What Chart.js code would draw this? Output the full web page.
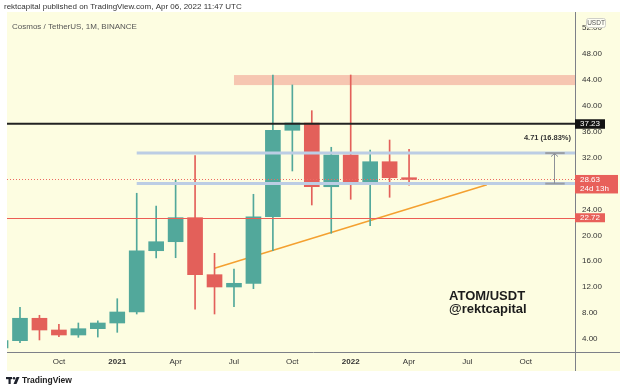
<!DOCTYPE html>
<html><head><meta charset="utf-8">
<script src="https://cdn.jsdelivr.net/npm/chart.js@4.4.1/dist/chart.umd.min.js"></script>
<style>html,body{margin:0;padding:0;background:#fff;}canvas{display:block;}</style>
</head><body>
<canvas id="c" width="620" height="387" style="width:620px;height:387px"></canvas>
<script>
// ---- data ----
const months = ['2020-07','2020-08','2020-09','2020-10','2020-11','2020-12','2021-01','2021-02','2021-03','2021-04','2021-05','2021-06','2021-07','2021-08','2021-09','2021-10','2021-11','2021-12','2022-01','2022-02','2022-03','2022-04'];
const opens  = [2.62, 3.74, 7.20, 5.39, 4.62, 5.59, 6.47, 8.17, 17.63, 19.02, 22.73, 13.93, 12.03, 12.60, 22.88, 36.22, 37.35, 27.51, 32.41, 28.04, 31.37, 28.90];
const highs  = [4.10, 8.89, 7.66, 6.27, 6.47, 6.80, 10.22, 26.50, 24.53, 28.55, 32.30, 17.23, 14.81, 26.34, 44.76, 43.22, 39.25, 33.60, 44.76, 33.18, 34.72, 33.29];
const lows   = [2.50, 3.43, 3.85, 4.36, 4.26, 4.30, 5.03, 7.86, 16.50, 16.55, 8.59, 7.86, 8.99, 11.77, 17.63, 29.94, 24.69, 20.32, 25.57, 21.49, 25.88, 27.73];
const closes = [3.74, 7.20, 5.39, 4.62, 5.59, 6.47, 8.17, 17.63, 19.02, 22.73, 13.93, 12.03, 12.60, 22.88, 36.22, 37.35, 27.51, 32.41, 28.04, 31.37, 28.90, 28.63];
const xTickMonths = ['2020-10','2021-01','2021-04','2021-07','2021-10','2022-01','2022-04','2022-07','2022-10'];
const xTickLabels = ['Oct','2021','Apr','Jul','Oct','2022','Apr','Jul','Oct'];
const yTicks = [4,8,12,16,20,24,28,32,36,40,44,48,52];
const resistance = 37.23;
const support = 22.72;
const lastPrice = 28.63;
const countdown = '24d 13h';
const rangeStart = '2021-02';
const rangeLevels = [32.70, 27.99];
const zoneStart = '2021-07';
const zoneLevels = [44.75, 43.20];
const trendMonths = ['2021-06','2022-08'];
const trendValues = [14.92, 27.80];
const headerText = 'rektcapital published on TradingView.com, Apr 06, 2022 11:47 UTC';
const symbolText = 'Cosmos / TetherUS, 1M, BINANCE';
const watermark = ['ATOM/USDT','@rektcapital'];

// ---- styling ----
const FONT = '"Liberation Sans", Arial, sans-serif';
const BG = '#fdfde1';
const GREEN = '#52a89b';
const RED = '#e3605a';
const mi = s => { const [yy,mm] = s.split('-').map(Number); return (yy-2020)*12 + (mm-8); };
const X_MIN = -0.668, X_MAX = 28.53;
const Y_MIN = 1.993, Y_MAX = 54.33;

const idx = months.map(mi);
const colors = closes.map((c,i)=> c >= opens[i] ? GREEN : RED);

function hline(ctx, x1, x2, y){ ctx.beginPath(); ctx.moveTo(x1,y); ctx.lineTo(x2,y); ctx.stroke(); }

const overlay = {
  id:'overlay',
  beforeDraw(chart){
    const ctx = chart.ctx;
    ctx.save();
    ctx.fillStyle = '#fff'; ctx.fillRect(0,0,620,387);
    ctx.fillStyle = BG; ctx.fillRect(7,12,613,359);
    ctx.fillStyle = '#333'; ctx.font = '8px ' + FONT; ctx.textBaseline = 'middle';
    ctx.fillText(headerText, 4, 6.5);
    ctx.fillStyle = '#555'; ctx.font = '8px ' + FONT;
    ctx.fillText(symbolText, 12, 27);
    ctx.restore();
  },
  beforeDatasetsDraw(chart){
    const {ctx, chartArea:a, scales:{x,y}} = chart;
    ctx.save();
    ctx.beginPath(); ctx.rect(a.left,a.top,a.right-a.left,a.bottom-a.top); ctx.clip();
    const y1 = y.getPixelForValue(zoneLevels[0]), y2 = y.getPixelForValue(zoneLevels[1]);
    ctx.fillStyle = '#f6c6b1';
    ctx.fillRect(x.getPixelForValue(mi(zoneStart)), y1, a.right - x.getPixelForValue(mi(zoneStart)), y2-y1);
    ctx.restore();
  },
  afterDatasetsDraw(chart){
    const {ctx, chartArea:a, scales:{x,y}} = chart;
    ctx.save();
    ctx.beginPath(); ctx.rect(a.left,a.top,a.right-a.left,a.bottom-a.top); ctx.clip();
    // range lines
    ctx.strokeStyle = '#bccde4'; ctx.lineWidth = 3;
    const xs = x.getPixelForValue(mi(rangeStart));
    rangeLevels.forEach(v => hline(ctx, xs, a.right, y.getPixelForValue(v)));
    // resistance
    ctx.strokeStyle = '#222'; ctx.lineWidth = 2;
    hline(ctx, a.left, a.right, y.getPixelForValue(resistance));
    // support
    ctx.strokeStyle = '#ec5d55'; ctx.lineWidth = 1;
    hline(ctx, a.left, a.right, Math.round(y.getPixelForValue(support))+0.5);
    // last price dotted
    ctx.setLineDash([1,2]); ctx.strokeStyle = '#ec6a62';
    hline(ctx, a.left, a.right, Math.round(y.getPixelForValue(lastPrice))+0.5);
    ctx.setLineDash([]);
    // measurement tool
    const mx = x.getPixelForValue(27.45);
    const cx1 = x.getPixelForValue(27.0), cx2 = x.getPixelForValue(28.0);
    const pt = y.getPixelForValue(rangeLevels[0]), pb = y.getPixelForValue(rangeLevels[1]);
    ctx.strokeStyle = '#9a9ea5'; ctx.lineWidth = 2;
    hline(ctx, cx1, cx2, pt); hline(ctx, cx1, cx2, pb);
    ctx.strokeStyle = '#8d9198'; ctx.lineWidth = 1;
    ctx.beginPath(); ctx.moveTo(Math.round(mx)+0.5, pt); ctx.lineTo(Math.round(mx)+0.5, pb); ctx.stroke();
    ctx.beginPath(); ctx.moveTo(Math.round(mx)-3, pt+3.5); ctx.lineTo(Math.round(mx)+0.5, pt+0.5); ctx.lineTo(Math.round(mx)+4, pt+3.5); ctx.stroke();
    const diff = rangeLevels[0]-rangeLevels[1];
    const pct = diff / rangeLevels[1] * 100;
    ctx.fillStyle = '#333'; ctx.font = 'bold 7.5px ' + FONT; ctx.textAlign = 'right'; ctx.textBaseline = 'middle';
    ctx.fillText(diff.toFixed(2) + ' (' + pct.toFixed(2) + '%)', mx + 17, pt - 15);
    ctx.restore();
  },
  afterDraw(chart){
    const {ctx, chartArea:a, scales:{x,y}} = chart;
    ctx.save();
    // axis lines
    ctx.strokeStyle = '#7d8088'; ctx.lineWidth = 1;
    ctx.beginPath(); ctx.moveTo(a.right+0.5, 12); ctx.lineTo(a.right+0.5, 371); ctx.stroke();
    ctx.beginPath(); ctx.moveTo(a.left, a.bottom+0.5); ctx.lineTo(620, a.bottom+0.5); ctx.stroke();
    // price labels
    ctx.textBaseline = 'middle'; ctx.textAlign = 'left';
    ctx.font = '8px ' + FONT;
    const yr = y.getPixelForValue(resistance);
    ctx.fillStyle = '#131313'; ctx.fillRect(a.right, yr-4.5, 30, 9.5);
    ctx.fillStyle = '#fff'; ctx.fillText(resistance.toFixed(2), a.right+5, yr+0.5);
    const yl = y.getPixelForValue(lastPrice);
    ctx.fillStyle = '#e8605a'; ctx.fillRect(a.right, yl-4.5, 43, 18.5);
    ctx.fillStyle = '#fff'; ctx.fillText(lastPrice.toFixed(2), a.right+5, yl+0.5);
    ctx.fillText(countdown, a.right+5, yl+9.5);
    const ys = y.getPixelForValue(support);
    ctx.fillStyle = '#e8605a'; ctx.fillRect(a.right, ys-4.5, 30, 9);
    ctx.fillStyle = '#fff'; ctx.fillText(support.toFixed(2), a.right+5, ys+0.3);
    // currency badge
    ctx.fillStyle = '#fefef4'; ctx.strokeStyle = '#cfcfc8'; ctx.lineWidth = 1;
    ctx.beginPath(); ctx.roundRect(586.5, 18.5, 19, 9, 2); ctx.fill(); ctx.stroke();
    ctx.fillStyle = '#555'; ctx.font = '6.5px ' + FONT; ctx.textAlign = 'center';
    ctx.fillText('USDT', 596, 23.3);
    // watermark
    ctx.textAlign = 'left'; ctx.fillStyle = '#1c1c1c'; ctx.font = 'bold 13px ' + FONT;
    ctx.fillText(watermark[0], 449, 296.5);
    ctx.fillText(watermark[1], 449, 309.5);
    // footer logo + text
    ctx.fillStyle = '#1e222d';
    ctx.fillRect(6, 377, 6, 2.2); ctx.fillRect(8.5, 377, 2.2, 7);
    ctx.beginPath(); ctx.arc(14, 378.3, 1.3, 0, Math.PI*2); ctx.fill();
    ctx.beginPath(); ctx.moveTo(16.5,377); ctx.lineTo(19.5,377); ctx.lineTo(16.5,384); ctx.lineTo(13.5,384); ctx.closePath(); ctx.fill();
    ctx.font = '600 8.5px ' + FONT; ctx.fillStyle = '#222';
    ctx.fillText('TradingView', 22, 380.5);
    ctx.restore();
  }
};

new Chart(document.getElementById('c'), {
  type: 'bar',
  data: {
    datasets: [
      { type:'bar', label:'body', data: idx.map((xv,i)=>({x:xv, y:[opens[i], closes[i]]})), backgroundColor: colors, barThickness: 15, grouped:false, order:1, clip:0 },
      { type:'bar', label:'wick', data: idx.map((xv,i)=>({x:xv, y:[lows[i], highs[i]]})), backgroundColor: colors, barThickness: 1, grouped:false, order:2, clip:0 },
      { type:'line', label:'trend', data: trendMonths.map((m,i)=>({x:mi(m), y:trendValues[i]})), borderColor:'#f4a030', borderWidth:1.5, pointRadius:0, order:3, clip:0 }
    ]
  },
  options: {
    responsive:false, animation:false, devicePixelRatio:1, events:[],
    layout:{ padding:{ left:7, top:13, right:0, bottom:16 } },
    plugins:{ legend:{display:false}, tooltip:{enabled:false} },
    scales:{
      x:{ type:'linear', min:X_MIN, max:X_MAX, offset:false,
          grid:{display:false, drawTicks:false}, border:{display:false},
          afterBuildTicks: s => { s.ticks = xTickMonths.map(m=>({value:mi(m)})); },
          afterFit: s => { s.height = 19; },
          ticks:{ autoSkip:false, maxRotation:0, padding:5, color:'#333',
                  font: c => ({ family:FONT, size:8, weight: /^\d{4}$/.test(xTickLabels[c.index]||'') ? 'bold' : 'normal' }),
                  callback:(v,i)=>xTickLabels[i] } },
      y:{ type:'linear', position:'right', min:Y_MIN, max:Y_MAX,
          grid:{display:false, drawTicks:false}, border:{display:false},
          afterBuildTicks: s => { s.ticks = yTicks.map(v=>({value:v})); },
          afterFit: s => { s.width = 45; },
          ticks:{ padding:7, color:'#333', font:{family:FONT, size:8}, callback: v => Number(v).toFixed(2) } }
    }
  },
  plugins:[overlay]
});
</script>
</body></html>
